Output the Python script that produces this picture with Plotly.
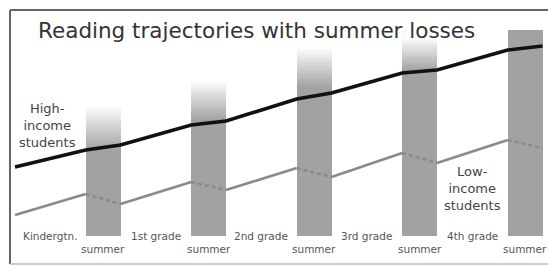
import plotly.graph_objects as go

# ---- data (reading score, arbitrary units; time in school years) ----
time_points = [0, 0.67, 1.0, 1.67, 2.0, 2.67, 3.0, 3.67, 4.0, 4.67, 5.0]
high_income = [69, 86, 91, 111, 115, 137, 143, 163, 166, 186, 190]
low_income = [21, 42, 32, 54, 46, 68, 59, 83, 73, 96, 88]

summer_start = [0.67, 1.67, 2.67, 3.67, 4.67]
summer_end = [1.0, 2.0, 3.0, 4.0, 5.0]
summer_solid_top = [86, 116, 149, 166, 206]
summer_fade_top = [131, 156, 189, 199, 206]

grade_labels = ["Kindergtn.", "1st grade", "2nd grade", "3rd grade", "4th grade"]
grade_start = [0, 1.0, 2.0, 3.0, 4.0]
summer_label = "summer"

BAR_GRAY = (162, 162, 162)
N_FADE = 30

fig = go.Figure()

centers = [(a + b) / 2 for a, b in zip(summer_start, summer_end)]
widths = [b - a for a, b in zip(summer_start, summer_end)]

# solid part of summer columns
fig.add_trace(go.Bar(x=centers, y=summer_solid_top, width=widths,
                     marker=dict(color="rgb(%d,%d,%d)" % BAR_GRAY, line=dict(width=0)),
                     hoverinfo="skip", showlegend=False))
# gradient fade to white at the top
for j in range(N_FADE):
    f = (j + 0.5) / N_FADE
    c = tuple(int(round(g + (255 - g) * f)) for g in BAR_GRAY)
    seg = [(ft - st) / N_FADE for st, ft in zip(summer_solid_top, summer_fade_top)]
    fig.add_trace(go.Bar(x=centers, y=seg, width=widths,
                         marker=dict(color="rgb(%d,%d,%d)" % c, line=dict(width=0)),
                         hoverinfo="skip", showlegend=False))

# low income line: solid during school year, dashed in summer
for i in range(len(time_points) - 1):
    summer = (i % 2 == 1)
    fig.add_trace(go.Scatter(x=time_points[i:i + 2], y=low_income[i:i + 2], mode="lines",
                             line=dict(color="#8a8a8a", width=2.6,
                                       dash="4px,3px" if summer else "solid"),
                             hoverinfo="skip", showlegend=False))

# high income line
fig.add_trace(go.Scatter(x=time_points, y=high_income, mode="lines",
                         line=dict(color="#111111", width=3.6),
                         hoverinfo="skip", showlegend=False))

annotations = []
lab_font = dict(family="DejaVu Sans, sans-serif", size=10.5, color="#555555")
for g, s, e in zip(grade_labels, grade_start, summer_start):
    annotations.append(dict(x=(s + e) / 2, y=0, text=g, showarrow=False,
                            xanchor="center", yanchor="middle", font=lab_font))
for c in centers:
    annotations.append(dict(x=c, y=-13, text=summer_label, showarrow=False,
                            xanchor="center", yanchor="middle", font=lab_font))

big_font = dict(family="DejaVu Sans, sans-serif", size=13, color="#444444")
annotations.append(dict(x=0.31, y=111, text="High-<br>income<br>students", showarrow=False,
                        xanchor="center", yanchor="middle", align="center", font=big_font))
annotations.append(dict(x=4.34, y=48, text="Low-<br>income<br>students", showarrow=False,
                        xanchor="center", yanchor="middle", align="center", font=big_font))
annotations.append(dict(xref="paper", yref="paper", x=36 / 548, y=1 - 30 / 267,
                        text="Reading trajectories with summer losses", showarrow=False,
                        xanchor="left", yanchor="middle",
                        font=dict(family="DejaVu Sans, sans-serif", size=21.5, color="#333333")))

shapes = [
    dict(type="line", xref="paper", yref="paper", x0=10 / 548, x1=1.01, y0=1 - 10 / 267, y1=1 - 10 / 267,
         line=dict(color="#666666", width=2)),
    dict(type="line", xref="paper", yref="paper", x0=10 / 548, x1=10 / 548, y0=1 - 10 / 267, y1=1 - 264 / 267,
         line=dict(color="#666666", width=2)),
    dict(type="line", xref="paper", yref="paper", x0=10 / 548, x1=1.01, y0=1 - 264 / 267, y1=1 - 264 / 267,
         line=dict(color="#bbbbbb", width=1.5)),
]

fig.update_layout(
    width=548, height=267, margin=dict(l=0, r=0, t=0, b=0),
    paper_bgcolor="white", plot_bgcolor="white",
    barmode="stack", bargap=0,
    xaxis=dict(range=[-0.1422, 5.052], visible=False, fixedrange=True),
    yaxis=dict(range=[-31, 236], visible=False, fixedrange=True),
    annotations=annotations, shapes=shapes,
)

fig.write_html("out.html", config={"displayModeBar": False},
               post_script="document.body.style.margin='0';document.body.style.overflow='hidden';")
